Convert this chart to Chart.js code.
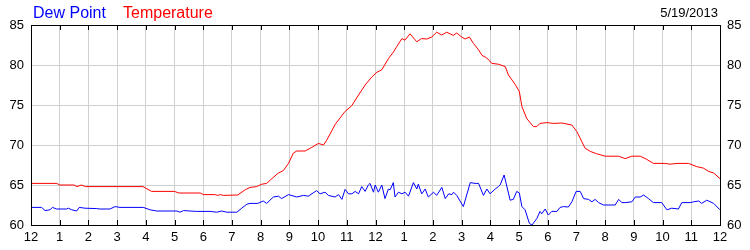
<!DOCTYPE html>
<html>
<head>
<meta charset="utf-8">
<script src="https://cdn.jsdelivr.net/npm/chart.js@4"></script>
<style>
  html, body { margin: 0; padding: 0; background: #fff; }
  canvas { display: block; }
</style>
</head>
<body>
<canvas id="chart" width="750" height="250"></canvas>
<script>
// hour-of-day tick labels (0..24)
const hourLabels = ["12","1","2","3","4","5","6","7","8","9","10","11","12","1","2","3","4","5","6","7","8","9","10","11","12"];

// temperature readings: hours since midnight, degrees
const tempHours = [0,0.9,1.0,1.5,1.6,1.75,1.9,3.9,4.2,5.0,5.15,5.9,6.0,6.4,6.5,6.6,6.7,7.2,7.46,7.63,7.86,8.04,8.21,8.39,8.62,8.79,8.97,9.14,9.26,9.55,9.78,10.01,10.19,10.3,10.6,10.94,11.17,11.41,11.64,11.87,12.05,12.22,12.45,12.62,12.74,12.92,13.03,13.2,13.44,13.6,13.79,13.96,14.13,14.31,14.48,14.71,14.83,15.0,15.12,15.27,15.41,15.59,15.71,15.82,15.93,16.05,16.28,16.52,16.63,16.86,17.01,17.1,17.27,17.5,17.62,17.73,17.97,18.2,18.49,18.84,19.01,19.19,19.3,19.48,19.71,20.0,20.46,20.7,20.93,21.22,21.45,21.68,22.09,22.26,22.5,22.9,23.19,23.43,23.6,23.78,24.0];
const tempValues = [65.2,65.2,65.0,65.0,64.8,65.0,64.8,64.8,64.2,64.2,64.0,64.0,63.8,63.8,63.7,63.8,63.7,63.75,64.4,64.7,64.8,65.1,65.2,65.8,66.5,66.8,67.7,69.0,69.25,69.25,69.7,70.2,70.0,70.6,72.6,74.2,74.9,76.25,77.5,78.5,79.1,79.4,80.8,81.6,82.3,83.3,83.1,83.9,82.9,83.3,83.25,83.5,84.1,83.75,84.1,83.7,84.0,83.5,83.25,83.5,82.7,81.9,81.2,81.0,80.7,80.2,80.1,79.8,78.75,77.6,76.7,74.8,73.3,72.3,72.3,72.7,72.8,72.7,72.75,72.5,71.7,70.4,69.6,69.2,68.9,68.6,68.6,68.3,68.6,68.6,68.2,67.7,67.7,67.6,67.7,67.7,67.3,67.1,66.7,66.5,65.8];

// dew point readings
const dewHours = [0,0.37,0.49,0.66,0.75,0.89,1.24,1.3,1.42,1.59,1.68,1.88,2.29,2.4,2.75,2.93,3.1,3.91,4.15,4.38,5.08,5.19,5.31,5.77,6.24,6.47,6.64,6.82,7.17,7.34,7.52,7.63,7.9,8.09,8.21,8.44,8.62,8.73,8.97,9.26,9.49,9.66,9.95,10.07,10.24,10.36,10.59,10.71,10.83,10.94,11.06,11.18,11.29,11.41,11.52,11.64,11.75,11.81,11.93,11.99,12.1,12.22,12.33,12.45,12.51,12.62,12.68,12.8,12.92,13.03,13.15,13.32,13.44,13.49,13.61,13.73,13.84,14.02,14.13,14.31,14.43,14.55,14.66,14.72,14.83,15.06,15.3,15.47,15.59,15.76,15.88,15.99,16.17,16.28,16.34,16.48,16.69,16.8,16.92,17.01,17.1,17.21,17.36,17.45,17.62,17.73,17.79,17.91,18.02,18.14,18.32,18.43,18.55,18.72,18.84,18.99,19.13,19.25,19.42,19.54,19.65,19.77,19.94,20.35,20.47,20.58,20.7,20.93,21.05,21.22,21.34,21.51,21.68,21.97,22.15,22.32,22.55,22.67,22.96,23.08,23.26,23.36,23.54,23.78,24.0];
const dewValues = [62.2,62.2,61.8,61.9,62.2,62.0,62.0,62.1,61.9,61.75,62.2,62.1,62.05,62.0,62.0,62.3,62.2,62.2,61.9,61.75,61.75,61.6,61.8,61.7,61.7,61.6,61.75,61.6,61.6,62.1,62.6,62.7,62.7,63.0,62.7,63.5,63.6,63.3,63.8,63.5,63.7,63.6,64.3,63.9,64.1,63.7,63.5,63.8,63.2,64.45,63.9,63.9,64.2,63.9,64.8,64.2,65.0,65.2,64.1,65.0,64.1,65.0,63.3,64.5,64.4,65.3,63.5,64.1,63.9,64.1,63.6,65.3,64.5,65.1,63.9,64.5,63.5,64.1,63.7,64.7,63.3,63.9,63.8,64.1,63.7,62.3,65.3,65.2,65.2,63.7,64.5,63.9,64.5,64.8,65.0,66.25,63.1,63.2,64.2,64.0,62.3,61.9,60.2,60.0,60.8,61.7,61.4,62.0,61.25,61.7,61.7,62.2,62.3,62.25,62.9,64.2,64.2,63.3,63.2,62.9,63.2,62.8,62.5,62.5,63.2,62.8,62.8,62.9,63.5,63.5,63.75,63.3,62.8,62.8,61.9,62.1,62.0,62.8,62.8,62.9,63.0,62.7,63.1,62.7,61.9];

const dateLabel = "5/19/2013";

const fontFamily = '"Liberation Sans", Arial, sans-serif';

function toPoints(xs, ys) {
    return xs.map((x, i) => ({ x: x, y: ys[i] }));
}

// header text and the inner tick marks / frame
const decorPlugin = {
    id: "decor",
    afterDraw(chart) {
        const ctx = chart.ctx;
        const area = chart.chartArea;
        const xScale = chart.scales.x;
        ctx.save();
        ctx.strokeStyle = "#000";
        ctx.lineWidth = 1;
        ctx.beginPath();
        for (let h = 0; h <= 24; h++) {
            const px = Math.round(xScale.getPixelForValue(h)) + 0.5;
            ctx.moveTo(px, area.top);
            ctx.lineTo(px, area.top + 5);
            ctx.moveTo(px, area.bottom);
            ctx.lineTo(px, area.bottom - 5);
        }
        ctx.stroke();
        ctx.strokeRect(Math.round(area.left) + 0.5, Math.round(area.top) + 0.5,
            Math.round(area.right - area.left), Math.round(area.bottom - area.top));

        ctx.textBaseline = "alphabetic";
        ctx.font = "16px " + fontFamily;
        ctx.textAlign = "left";
        ctx.fillStyle = "blue";
        ctx.fillText("Dew Point", 33, 18);
        ctx.fillStyle = "red";
        ctx.fillText("Temperature", 123, 18);
        ctx.font = "13px " + fontFamily;
        ctx.fillStyle = "#000";
        ctx.textAlign = "right";
        ctx.fillText(dateLabel, 718, 17);
        ctx.restore();
    }
};

const tickFont = { family: fontFamily, size: 13 };

new Chart(document.getElementById("chart"), {
    type: "line",
    data: {
        datasets: [
            {
                label: "Dew Point",
                data: toPoints(dewHours, dewValues),
                borderColor: "blue",
                borderWidth: 1,
                pointRadius: 0,
                tension: 0,
                yAxisID: "y"
            },
            {
                label: "Temperature",
                data: toPoints(tempHours, tempValues),
                borderColor: "red",
                borderWidth: 1,
                pointRadius: 0,
                tension: 0,
                yAxisID: "y"
            }
        ]
    },
    options: {
        responsive: false,
        animation: false,
        devicePixelRatio: 1,
        layout: { padding: { top: 25, left: 0, right: 0, bottom: 0 } },
        plugins: {
            legend: { display: false },
            tooltip: { enabled: false }
        },
        scales: {
            x: {
                type: "linear",
                min: 0,
                max: 24,
                afterFit: (scale) => { scale.height = 25; },
                grid: { color: "#d0d0d0", drawTicks: false },
                border: { color: "#000" },
                ticks: {
                    stepSize: 1,
                    autoSkip: false,
                    maxRotation: 0,
                    padding: 5,
                    color: "#000",
                    font: tickFont,
                    callback: (v) => hourLabels[v]
                }
            },
            y: {
                position: "left",
                min: 60,
                max: 85,
                afterFit: (scale) => { scale.width = 31; },
                grid: { color: "#d0d0d0", drawTicks: false },
                border: { color: "#000" },
                ticks: { stepSize: 5, padding: 7, color: "#000", font: tickFont }
            },
            y2: {
                position: "right",
                min: 60,
                max: 85,
                afterFit: (scale) => { scale.width = 30; },
                grid: { display: false, drawTicks: false },
                border: { color: "#000" },
                ticks: { stepSize: 5, padding: 7, color: "#000", font: tickFont }
            }
        }
    },
    plugins: [decorPlugin]
});
</script>
</body>
</html>
